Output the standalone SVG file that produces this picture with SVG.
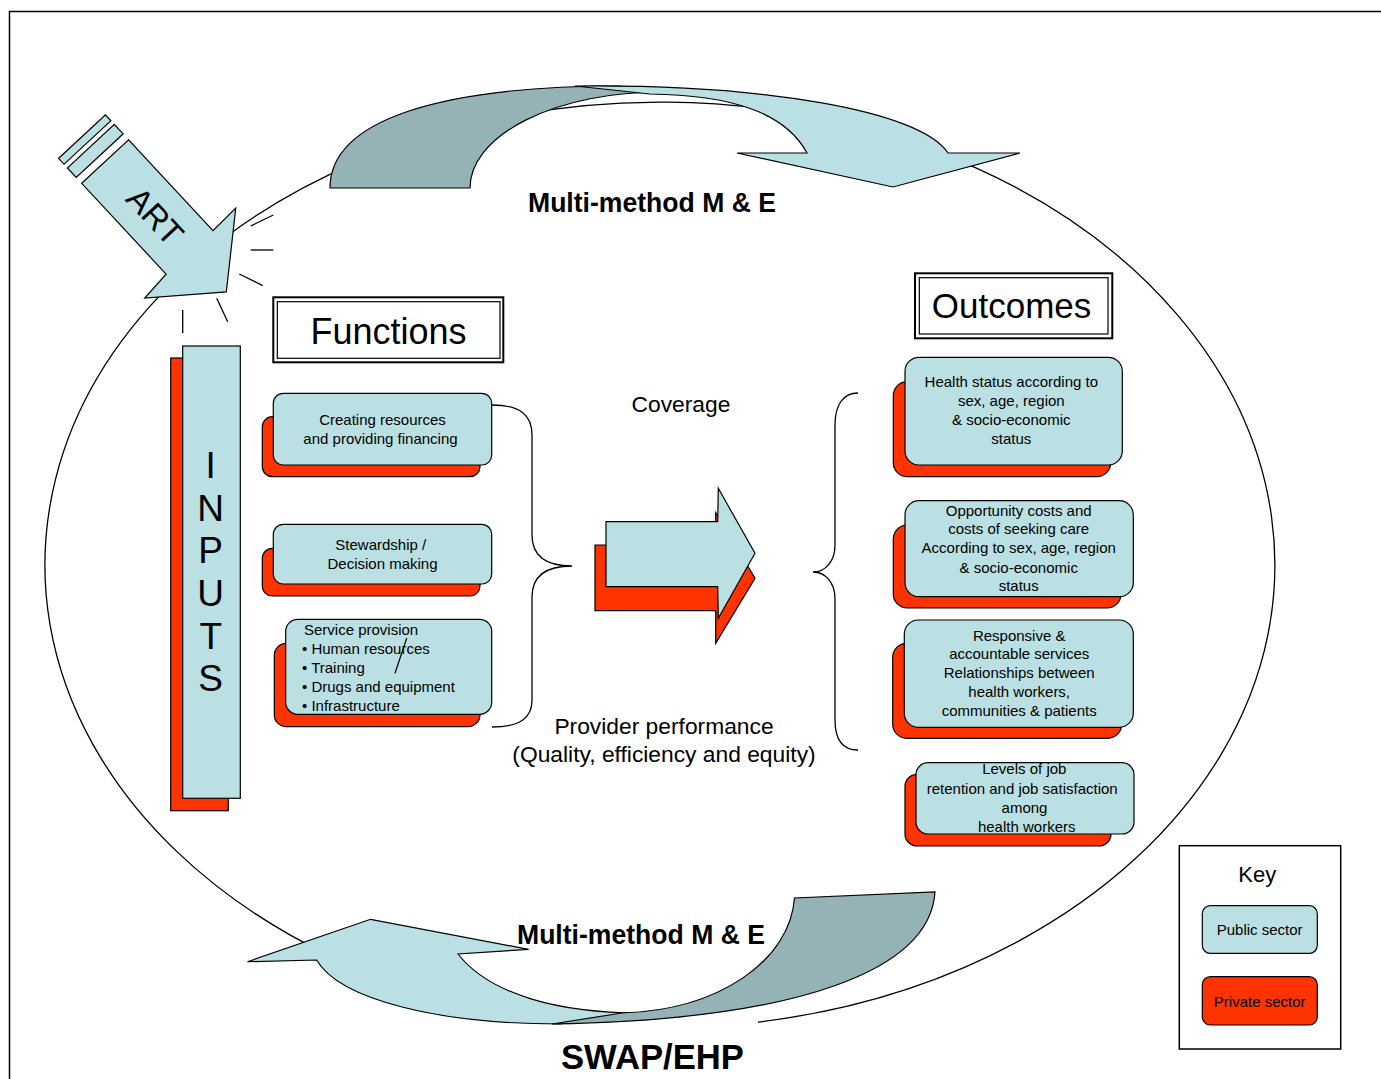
<svg xmlns="http://www.w3.org/2000/svg" width="1381" height="1079" viewBox="0 0 1381 1079">
<style>
.t{font-family:"Liberation Sans",Arial,sans-serif;fill:#000}
.b{font-weight:bold}
.pub{fill:#BAE0E3;stroke:#000;stroke-width:1.2}
.prv{fill:#FF3300;stroke:#000;stroke-width:1.2}
.drk{fill:#95B3B6;stroke:#000;stroke-width:1.2}
.ln{fill:none;stroke:#000;stroke-width:1.3}
.s15{font-size:15px}
.mid{text-anchor:middle}
</style>
<rect width="1381" height="1079" fill="#fff"/>
<rect x="9.5" y="11.5" width="1400" height="1100" fill="none" stroke="#000" stroke-width="1.5"/>

<g id="connectors">
  <path id="ellipse" class="ln" d="M548,1020.3 A615,463 0 1 1 758,1022.1"/>
  <g id="top-arrow">
    <path class="drk" d="M330,188 C330,120 440,86 620,86 L660,92 A190,96 0 0 0 470,188 Z"/>
    <path class="pub" d="M575,86 C760,84 920,110 948,153 L1020,153 L893,187 L737,153 L807,153 C785,112 730,95 650,94 Z"/>
  </g>
  <g id="bottom-arrow">
    <path class="pub" d="M247.5,961.7 L370.6,919.3 L528.6,949.3 L458,954 C490,995 560,1013 640,1013 L560,1024 C440,1024 340,1000 316.6,960 Z"/>
    <path class="drk" d="M935,892 C930,970 800,1020 552,1024 L622,1013 C720,1010 790,960 794.5,898 Z"/>
  </g>
  <path id="brace-left" class="ln" d="M492,405 C520,405 532,415 532,435 L532,535 C532,555 545,566 572,566 C545,566 532,577 532,597 L532,700 C532,718 520,727 492,727"/>
  <path id="brace-right" class="ln" d="M858,393 C843,393 835,405 835,425 L835,545 C835,562 825,572 813,572 C825,572 835,582 835,599 L835,720 C835,740 843,750 858,750"/>
  <g id="center-arrow">
    <path class="prv" d="M595,545 L715.7,545 L715.7,512.7 L755,578.3 L715.7,643.3 L715.7,610.7 L595,610.7 Z"/>
    <path class="pub" d="M606,521.7 L717.7,521.7 L718.3,488.3 L755,553.3 L718.3,618.3 L717.7,586.7 L606,586.7 Z"/>
  </g>
</g>

<g id="art">
  <g transform="translate(81.7,183.3) rotate(47.1)">
    <path class="pub" d="M0,0 L0,-64 L124,-64 L123,-96 L178,-32 L127,32 L124,0 Z"/>
    <rect class="pub" x="-21" y="-64" width="13" height="64"/>
    <rect class="pub" x="-34" y="-64" width="8" height="64"/>
    <text class="t mid" x="74" y="-20" font-size="33">ART</text>
  </g>
  <g class="ln" stroke-width="1.2">
    <line x1="250.7" y1="226" x2="273.3" y2="215"/>
    <line x1="250.7" y1="250" x2="273.3" y2="250"/>
    <line x1="239.3" y1="274" x2="262.7" y2="285.7"/>
    <line x1="216.7" y1="298.3" x2="227.7" y2="321.7"/>
    <line x1="182.7" y1="310" x2="182.7" y2="333.3"/>
  </g>
</g>

<g id="inputs">
  <rect class="prv" x="170.7" y="358" width="57.6" height="452.7"/>
  <rect class="pub" x="182.7" y="346" width="57.6" height="452.3"/>
  <g class="t mid" font-size="37">
    <text x="210.7" y="478">I</text>
    <text x="210.7" y="520.7">N</text>
    <text x="210.7" y="563.3">P</text>
    <text x="210.7" y="606">U</text>
    <text x="210.7" y="648.7">T</text>
    <text x="210.7" y="691.3">S</text>
  </g>
</g>

<g id="functions-title">
  <rect x="273.3" y="297.3" width="230" height="65" fill="#fff" stroke="#000" stroke-width="2"/>
  <rect x="277.3" y="301.7" width="222.7" height="56.6" fill="none" stroke="#000" stroke-width="1.2"/>
  <text class="t mid" x="388.5" y="344" font-size="36">Functions</text>
</g>

<g id="outcomes-title">
  <rect x="915" y="273.3" width="197.3" height="65" fill="#fff" stroke="#000" stroke-width="2"/>
  <rect x="919.3" y="277.7" width="188.7" height="56.3" fill="none" stroke="#000" stroke-width="1.2"/>
  <text class="t mid" x="1011.5" y="317.5" font-size="35">Outcomes</text>
</g>

<g id="f1">
  <rect class="prv" x="262.3" y="416.7" width="217.7" height="60" rx="10"/>
  <rect class="pub" x="273.3" y="393.3" width="218.4" height="71.7" rx="10"/>
  <text class="t s15 mid" x="382.5" y="425">Creating resources</text>
  <text class="t s15 mid" x="380.5" y="444">and providing financing</text>
</g>
<g id="f2">
  <rect class="prv" x="262.3" y="548.3" width="217.7" height="47.7" rx="10"/>
  <rect class="pub" x="273.3" y="524.3" width="218.4" height="59.7" rx="10"/>
  <text class="t s15 mid" x="380.8" y="550">Stewardship /</text>
  <text class="t s15 mid" x="382.5" y="569">Decision making</text>
</g>
<g id="f3">
  <rect class="prv" x="274.3" y="643.3" width="205.7" height="83.4" rx="12"/>
  <rect class="pub" x="285.7" y="619.3" width="206" height="95" rx="12"/>
  <text class="t s15" x="304" y="635">Service provision</text>
  <text class="t s15" x="302" y="654">• Human resources</text>
  <text class="t s15" x="302" y="672.7">• Training</text>
  <text class="t s15" x="302" y="691.7">• Drugs and equipment</text>
  <text class="t s15" x="302" y="710.7">• Infrastructure</text>
  <line x1="406.7" y1="638.3" x2="395" y2="673.3" stroke="#000" stroke-width="1.2"/>
</g>

<g id="center-labels">
  <text class="t mid" x="681" y="412" font-size="22.8">Coverage</text>
  <text class="t mid" x="664" y="734" font-size="22.8">Provider performance</text>
  <text class="t mid" x="664" y="762" font-size="22.8">(Quality, efficiency and equity)</text>
</g>

<g id="o1">
  <rect class="prv" x="893.3" y="381.7" width="217.4" height="95" rx="14"/>
  <rect class="pub" x="905" y="357.3" width="217.3" height="107.7" rx="14"/>
  <text class="t s15 mid" x="1011.3" y="387.3">Health status according to</text>
  <text class="t s15 mid" x="1011.3" y="406">sex, age, region</text>
  <text class="t s15 mid" x="1011.3" y="425">&amp; socio-economic</text>
  <text class="t s15 mid" x="1011.3" y="444">status</text>
</g>
<g id="o2">
  <rect class="prv" x="893.3" y="525" width="227.7" height="83" rx="14"/>
  <rect class="pub" x="905" y="500.7" width="228.3" height="96" rx="14"/>
  <text class="t s15 mid" x="1018.7" y="515.7">Opportunity costs and</text>
  <text class="t s15 mid" x="1018.7" y="534.3">costs of seeking care</text>
  <text class="t s15 mid" x="1018.7" y="553.3">According to sex, age, region</text>
  <text class="t s15 mid" x="1018.7" y="572.7">&amp; socio-economic</text>
  <text class="t s15 mid" x="1018.7" y="591">status</text>
</g>
<g id="o3">
  <rect class="prv" x="892.7" y="643.3" width="229" height="95" rx="14"/>
  <rect class="pub" x="904.3" y="620" width="229" height="107.3" rx="14"/>
  <text class="t s15 mid" x="1019.2" y="640.7">Responsive &amp;</text>
  <text class="t s15 mid" x="1019.2" y="659.3">accountable services</text>
  <text class="t s15 mid" x="1019.2" y="678.3">Relationships between</text>
  <text class="t s15 mid" x="1019.2" y="696.7">health workers,</text>
  <text class="t s15 mid" x="1019.2" y="715.7">communities &amp; patients</text>
</g>
<g id="o4">
  <rect class="prv" x="905" y="774.3" width="206" height="71.7" rx="12"/>
  <rect class="pub" x="916" y="762.7" width="218" height="71.3" rx="12"/>
  <text class="t s15 mid" x="1024.3" y="774">Levels of job</text>
  <text class="t s15 mid" x="1022.2" y="794">retention and job satisfaction</text>
  <text class="t s15 mid" x="1024.5" y="813.3">among</text>
  <text class="t s15 mid" x="1026.7" y="831.7">health workers</text>
</g>

<g id="mme-labels">
  <text class="t b mid" x="652" y="212" font-size="27" textLength="248" lengthAdjust="spacingAndGlyphs">Multi-method M &amp; E</text>
  <text class="t b mid" x="641" y="944" font-size="27" textLength="248" lengthAdjust="spacingAndGlyphs">Multi-method M &amp; E</text>
  <text class="t b mid" x="652.5" y="1069" font-size="35" textLength="183" lengthAdjust="spacingAndGlyphs">SWAP/EHP</text>
</g>

<g id="key">
  <rect x="1179.3" y="845.7" width="161.4" height="203.3" fill="#fff" stroke="#000" stroke-width="1.5"/>
  <text class="t mid" x="1257.3" y="881.7" font-size="22">Key</text>
  <rect class="pub" x="1202.3" y="905.7" width="115" height="47.6" rx="8"/>
  <text class="t s15 mid" x="1259.7" y="935">Public sector</text>
  <rect class="prv" x="1202.3" y="976.7" width="115" height="48.3" rx="8"/>
  <text class="t s15 mid" x="1259.7" y="1006.7">Private sector</text>
</g>
</svg>
